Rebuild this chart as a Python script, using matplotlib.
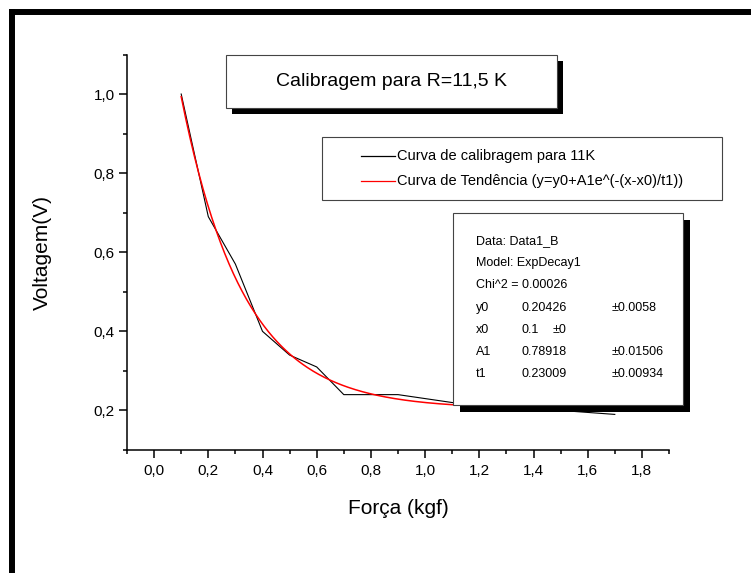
import numpy as np
import matplotlib
matplotlib.use("Agg")
import matplotlib.pyplot as plt
from matplotlib.patches import Rectangle

plt.rcParams['font.family'] = ['Liberation Sans', 'DejaVu Sans']

# dados
forca = [0.1, 0.2, 0.3, 0.4, 0.5, 0.6, 0.7, 0.8, 0.9, 1.0, 1.1, 1.2, 1.3, 1.4, 1.5, 1.6, 1.7]
voltagem = [1.00, 0.69, 0.57, 0.40, 0.34, 0.31, 0.24, 0.24, 0.24, 0.23, 0.22,
            0.215, 0.21, 0.205, 0.20, 0.195, 0.19]

# parametros do ajuste (caixa de resultados)
y0, x0, A1, t1 = 0.20426, 0.1, 0.78918, 0.23009

xticks = [0.0, 0.2, 0.4, 0.6, 0.8, 1.0, 1.2, 1.4, 1.6, 1.8]
xticklabels = ["0,0", "0,2", "0,4", "0,6", "0,8", "1,0", "1,2", "1,4", "1,6", "1,8"]
yticks = [0.2, 0.4, 0.6, 0.8, 1.0]
yticklabels = ["0,2", "0,4", "0,6", "0,8", "1,0"]

titulo = "Calibragem para R=11,5 K"
leg_labels = ["Curva de calibragem para 11K",
              "Curva de Tendência (y=y0+A1e^(-(x-x0)/t1))"]
fit_info = ["Data: Data1_B", "Model: ExpDecay1", "Chi^2 = 0.00026"]
fit_rows = [("y0", "0.20426", "\u00b10.0058"),
            ("x0", "0.1", None),
            ("A1", "0.78918", "\u00b10.01506"),
            ("t1", "0.23009", "\u00b10.00934")]

W, H = 751, 573
fig = plt.figure(figsize=(W / 100, H / 100), dpi=100)

# eixo principal (posicao em pixels)
L, R, B, T = 127, 669, 450, 54.5
ax = fig.add_axes([L / W, (H - B) / H, (R - L) / W, (B - T) / H])

xf = np.linspace(forca[0], forca[-1], 300)
ax.plot(forca, voltagem, color="black", lw=0.8, zorder=2)
ax.plot(xf, y0 + A1 * np.exp(-(xf - x0) / t1), color="#ff0000", lw=1.1, zorder=3)

ax.set_xlim(-0.1, 1.9)
ax.set_ylim(0.1, 1.1)
ax.set_xticks(xticks)
ax.set_xticklabels(xticklabels)
ax.set_xticks(np.round(np.arange(-0.1, 1.95, 0.2), 1), minor=True)
ax.set_yticks(yticks)
ax.set_yticklabels(yticklabels)
ax.set_yticks([0.1, 0.3, 0.5, 0.7, 0.9, 1.1], minor=True)

for s in ["top", "right"]:
    ax.spines[s].set_visible(False)
for s in ["left", "bottom"]:
    ax.spines[s].set_linewidth(1.1)
ax.tick_params(which="major", direction="out", length=5.8, width=1.1, labelsize=11)
ax.tick_params(which="minor", direction="out", length=2.9, width=1.1)
ax.tick_params(axis="x", which="major", pad=4)
ax.tick_params(axis="y", which="major", pad=3)

ax.set_xlabel("Força (kgf)", fontsize=15)
ax.xaxis.set_label_coords(0.5, -0.149)
ax.xaxis.label.set_va("center")
ax.set_ylabel("Voltagem(V)", fontsize=15)
ax.yaxis.set_label_coords((42 - L) / (R - L), 0.5)
ax.yaxis.label.set_va("center")

# camada de sobreposicao em pixels
ov = fig.add_axes([0, 0, 1, 1], zorder=5)
ov.set_xlim(0, W)
ov.set_ylim(H, 0)
ov.axis("off")
ov.patch.set_alpha(0)

# moldura grossa
ov.plot([9, W], [12, 12], color="black", lw=4.3, solid_capstyle="butt")
ov.plot([12, 12], [9, H], color="black", lw=4.3, solid_capstyle="butt")

def caixa(x1, y1, x2, y2, sombra):
    if sombra:
        ov.add_patch(Rectangle((x1 + sombra, y1 + sombra), x2 - x1, y2 - y1,
                               facecolor="black", edgecolor="none"))
    ov.add_patch(Rectangle((x1, y1), x2 - x1, y2 - y1, facecolor="white",
                           edgecolor="#444444", lw=0.8))

# titulo
caixa(226, 55, 557, 108, 6)
ov.text((226 + 557) / 2, 81.5, titulo, fontsize=14, ha="center", va="center")

# legenda
caixa(322, 137, 722, 200, 0)
for i, (lab, cor) in enumerate(zip(leg_labels, ["black", "#ff0000"])):
    yy = 156 + i * 24.5
    ov.plot([361, 395], [yy, yy], color=cor, lw=0.9)
    ov.text(397, yy, lab, fontsize=10.5, va="center")

# caixa do ajuste
caixa(453, 213, 683, 405, 7)
yy = 241
for linha in fit_info:
    ov.text(476, yy, linha, fontsize=9, va="center")
    yy += 22.2
for nome, val, err in fit_rows:
    ov.text(476, yy, nome, fontsize=9, va="center")
    ov.text(521, yy, val, fontsize=9, va="center")
    if err is None:
        ov.text(553, yy, "\u00b10", fontsize=9, va="center")
    else:
        ov.text(612, yy, err, fontsize=9, va="center")
    yy += 22.2

fig.savefig("out.png", dpi=100)
